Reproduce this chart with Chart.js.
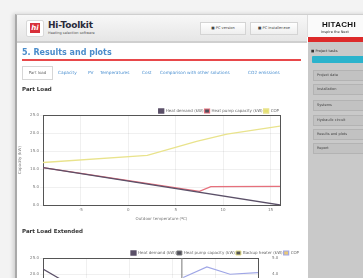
<!DOCTYPE html>
<html>
<head>
<meta charset="utf-8">
<script src="https://cdn.jsdelivr.net/npm/chart.js@4/dist/chart.umd.min.js"></script>
<style>
  html,body{margin:0;padding:0;}
  body{width:363px;height:278px;overflow:hidden;background:#f3f3f3;font-family:"Open Sans","DejaVu Sans",sans-serif;position:relative;}
  .page{position:absolute;left:0;top:0;width:363px;height:278px;filter:blur(0.7px);}
  .frame{position:absolute;left:15px;top:14px;width:360px;height:280px;background:#fff;border-left:2px solid #a9a9a9;border-top:1px solid #cfcfcf;box-shadow:-2px 0 4px rgba(0,0,0,0.15);}
  .header{position:absolute;left:17px;top:15px;width:290px;height:26px;background:linear-gradient(#f7f7f7,#e6e6e6);border-bottom:2px solid #cfcfcf;}
  .logo{position:absolute;left:26px;top:20px;width:16px;height:15px;background:#fff;border:1px solid #d8d8d8;border-radius:2px;}
  .logo span{position:absolute;left:3px;top:2px;width:10px;height:10px;background:#d8303a;color:#fff;font:italic bold 7px "DejaVu Sans";line-height:10px;text-align:center;}
  .brand{position:absolute;left:48px;top:20px;font:bold 9px "DejaVu Sans";color:#2a2a3a;letter-spacing:-0.2px;}
  .brandsub{position:absolute;left:48px;top:31px;font:3.5px "DejaVu Sans";color:#555;}
  .btn{position:absolute;top:22px;height:11px;background:linear-gradient(#fff,#eee);border:1px solid #d4d4d4;font:3.6px "DejaVu Sans";color:#444;line-height:11px;text-align:center;}
  .hit{position:absolute;left:307px;top:15px;width:60px;height:22px;background:#fafafa;border-left:1px solid #ddd;}
  .hit b{position:absolute;left:14px;top:5px;font:bold 8px "Liberation Sans";color:#111;letter-spacing:0.3px;}
  .hit i{position:absolute;left:13px;top:15px;font:normal 3.5px "DejaVu Sans";color:#333;}
  .side{position:absolute;left:308px;top:37px;width:60px;height:250px;background:#c9c9c9;}
  .side .red{position:absolute;left:0;top:0;width:60px;height:5px;background:#dd2a2a;}
  .side .lbl{position:absolute;left:3px;top:12px;font:3.5px "DejaVu Sans";color:#333;}
  .side .cy{position:absolute;left:4px;top:19px;width:52px;height:7px;background:#2bb3cc;border-radius:1px;}
  .side .it{position:absolute;left:5px;width:60px;height:9px;background:#c2c2c2;border:1px solid #b3b3b3;font:3.5px "DejaVu Sans";color:#444;line-height:9px;padding-left:3px;}
  .title{position:absolute;left:22px;top:48px;font:bold 8px "DejaVu Sans";color:#4a8ccb;}
  .rline{position:absolute;left:22px;top:59px;width:279px;height:2px;background:#e8484a;}
  .tabs{position:absolute;left:22px;top:66px;}
  .tab0{position:absolute;left:0;top:0;width:29px;height:12px;border:1px solid #d6d6d6;background:#fff;font:4px "DejaVu Sans";color:#666;line-height:12px;text-align:center;}
  .tl{position:absolute;top:4px;font:4.3px "DejaVu Sans";color:#4a8fd0;white-space:nowrap;}
  .h2{position:absolute;left:22px;font:bold 5.5px "DejaVu Sans";color:#333;}
  #c1{position:absolute;left:17px;top:100px;}
  #c2{position:absolute;left:17px;top:240px;}
</style>
</head>
<body>
<div class="page">
  <div class="frame"></div>
  <div class="header"></div>
  <div class="logo"><span>hi</span></div>
  <div class="brand">Hi-Toolkit</div>
  <div class="brandsub">Heating selection software</div>
  <div class="btn" style="left:200px;width:44px;">&#9632; PC version</div>
  <div class="btn" style="left:250px;width:46px;">&#9632; PC installer.exe</div>
  <div class="hit"><b>HITACHI</b><i>Inspire the Next</i></div>
  <div class="side">
    <div class="red"></div>
    <div class="lbl">&#9632; Project tasks</div>
    <div class="cy"></div>
    <div class="it" style="top:33px">Project data</div>
    <div class="it" style="top:47px">Installation</div>
    <div class="it" style="top:63px">Systems</div>
    <div class="it" style="top:78px">Hydraulic circuit</div>
    <div class="it" style="top:92px">Results and plots</div>
    <div class="it" style="top:106px">Report</div>
  </div>
  <div class="title">5. Results and plots</div>
  <div class="rline"></div>
  <div class="tabs">
    <div class="tab0">Part load</div>
    <div class="tl" style="left:36px">Capacity</div>
    <div class="tl" style="left:66px">PV</div>
    <div class="tl" style="left:78px">Temperatures</div>
    <div class="tl" style="left:120px">Cost</div>
    <div class="tl" style="left:138px">Comparison with other solutions</div>
    <div class="tl" style="left:226px">CO2 emissions</div>
  </div>
  <div class="h2" style="top:86px">Part Load</div>
  <canvas id="c1" width="283" height="122"></canvas>
  <div class="h2" style="top:228px">Part Load Extended</div>
  <canvas id="c2" width="283" height="110"></canvas>
</div>
<script>
// ---- Chart 1: Part Load ----
const seriesNames1 = ["Heat demand (kW)", "Heat pump capacity (kW)", "COP"];
const demandX = [-9, 16];
const demandY = [10.4, 0];
const capX = [-9, 7.5, 8.7, 16];
const capY = [10.4, 3.8, 5.1, 5.2];
const copX = [-9, 2, 7.2, 10.4, 16];
const copY = [11.8, 13.8, 17.7, 19.7, 21.9];
const xTicks1 = [-5, 0, 5, 10, 15];
const yTicks1 = [0, 5, 10, 15, 20, 25];

// ---- Chart 2: Part Load Extended ----
const seriesNames2 = ["Heat demand (kW)", "Heat pump capacity (kW)", "Backup heater (kW)", "COP"];
const demand2X = [-20, 8];
const demand2Y = [21.6, 0];
const limit2X = [12.3, 12.3];
const limit2Y = [0, 25];
const cop2X = [12.6, 18.1, 23.5, 30];
const cop2Y = [3.8, 4.45, 4.0, 4.1];

const pts = (xs, ys) => xs.map((x, i) => ({x: x, y: ys[i]}));
const tickFont = {size: 4, family: "DejaVu Sans"};
const gridC = 'rgba(0,0,0,0.06)';

function boxAxis(pos){
  return {position: pos, display: true, grid: {display: false, drawTicks: false}, ticks: {display: false}, border: {display: true, color: '#555', width: 1}};
}
function legendShrink(px){
  return {id: 'legendShrink', beforeInit(chart){
    const lg = chart.legend; const fit = lg.fit;
    lg.fit = function(){ fit.call(lg); lg.height = Math.max(0, lg.height - px); };
  }};
}

new Chart(document.getElementById('c1'), {
  type: 'line',
  plugins: [legendShrink(8)],
  data: {datasets: [
    {label: seriesNames1[0], data: pts(demandX, demandY), borderColor: '#5b5068', backgroundColor: '#5b5068', borderWidth: 1.3, pointRadius: 0, tension: 0},
    {label: seriesNames1[1], data: pts(capX, capY), borderColor: '#e6707c', backgroundColor: '#4e4e5a', borderWidth: 1.2, pointRadius: 0, tension: 0},
    {label: seriesNames1[2], data: pts(copX, copY), borderColor: '#e9e38c', backgroundColor: '#e4e070', borderWidth: 1.3, pointRadius: 0, tension: 0}
  ]},
  options: {
    responsive: false, animation: false, devicePixelRatio: 1,
    layout: {padding: {left: 0, right: 20, top: 8, bottom: 0}},
    plugins: {
      tooltip: {enabled: false},
      legend: {display: true, align: 'end', labels: {font: tickFont, color: '#666', boxWidth: 5, boxHeight: 4, padding: 1}}
    },
    scales: {
      x: {type: 'linear', min: -9, max: 16,
          afterBuildTicks: s => { s.ticks = xTicks1.map(v => ({value: v})); },
          afterFit: s => { s.height = 17; },
          grid: {color: gridC, drawTicks: false}, border: {color: '#555'},
          ticks: {font: tickFont, color: '#777', padding: 3},
          title: {display: true, text: 'Outdoor temperature (ºC)', font: tickFont, color: '#777', padding: 1}},
      y: {type: 'linear', min: 0, max: 25,
          afterBuildTicks: s => { s.ticks = yTicks1.map(v => ({value: v})); },
          afterFit: s => { s.width = 26; },
          grid: {color: gridC, drawTicks: true, tickLength: 3}, border: {color: '#555'},
          ticks: {font: tickFont, color: '#777', padding: 1, callback: v => v.toFixed(1)},
          title: {display: true, text: 'Capacity (kW)', font: tickFont, color: '#777', padding: 1}},
      x2: Object.assign(boxAxis('top'), {type: 'linear', min: -9, max: 16}),
      y2: Object.assign(boxAxis('right'), {type: 'linear', min: 0, max: 25})
    }
  }
});

new Chart(document.getElementById('c2'), {
  type: 'line',
  plugins: [legendShrink(7)],
  data: {datasets: [
    {label: seriesNames2[0], data: pts(demand2X, demand2Y), borderColor: '#5b5068', backgroundColor: '#5b5068', borderWidth: 1.3, pointRadius: 0, tension: 0, yAxisID: 'y'},
    {label: seriesNames2[1], data: pts(limit2X, limit2Y), borderColor: '#777', backgroundColor: '#4e4e5a', borderWidth: 1, pointRadius: 0, tension: 0, yAxisID: 'y'},
    {label: seriesNames2[2], data: [], borderColor: '#e9e38c', backgroundColor: '#555', borderWidth: 1, pointRadius: 0, yAxisID: 'y'},
    {label: seriesNames2[3], data: pts(cop2X, cop2Y), borderColor: '#9fa6e6', backgroundColor: '#e9c878', borderWidth: 1.2, pointRadius: 0, tension: 0, yAxisID: 'yR'}
  ]},
  options: {
    responsive: false, animation: false, devicePixelRatio: 1,
    layout: {padding: {left: 0, right: 0, top: 10, bottom: 0}},
    plugins: {
      tooltip: {enabled: false},
      legend: {display: true, align: 'end', labels: {font: tickFont, color: '#666', boxWidth: 5, boxHeight: 4, padding: 1}}
    },
    scales: {
      x: {type: 'linear', min: -20, max: 30, grid: {color: gridC, drawTicks: false}, border: {color: '#555'},
          ticks: {font: tickFont, color: '#777'}},
      y: {type: 'linear', min: 0, max: 25, position: 'left',
          afterFit: s => { s.width = 26; },
          grid: {color: gridC, tickLength: 3}, border: {color: '#555'},
          ticks: {font: tickFont, color: '#777', stepSize: 5, padding: 1, callback: v => v.toFixed(1)}},
      yR: {type: 'linear', min: 0, max: 5, position: 'right',
          afterFit: s => { s.width = 42; },
          grid: {display: false}, border: {color: '#555'},
          ticks: {font: tickFont, color: '#777', stepSize: 1, padding: 6, callback: v => v.toFixed(1)}},
      x2: Object.assign(boxAxis('top'), {type: 'linear', min: -20, max: 30})
    }
  }
});
</script>
</body>
</html>
